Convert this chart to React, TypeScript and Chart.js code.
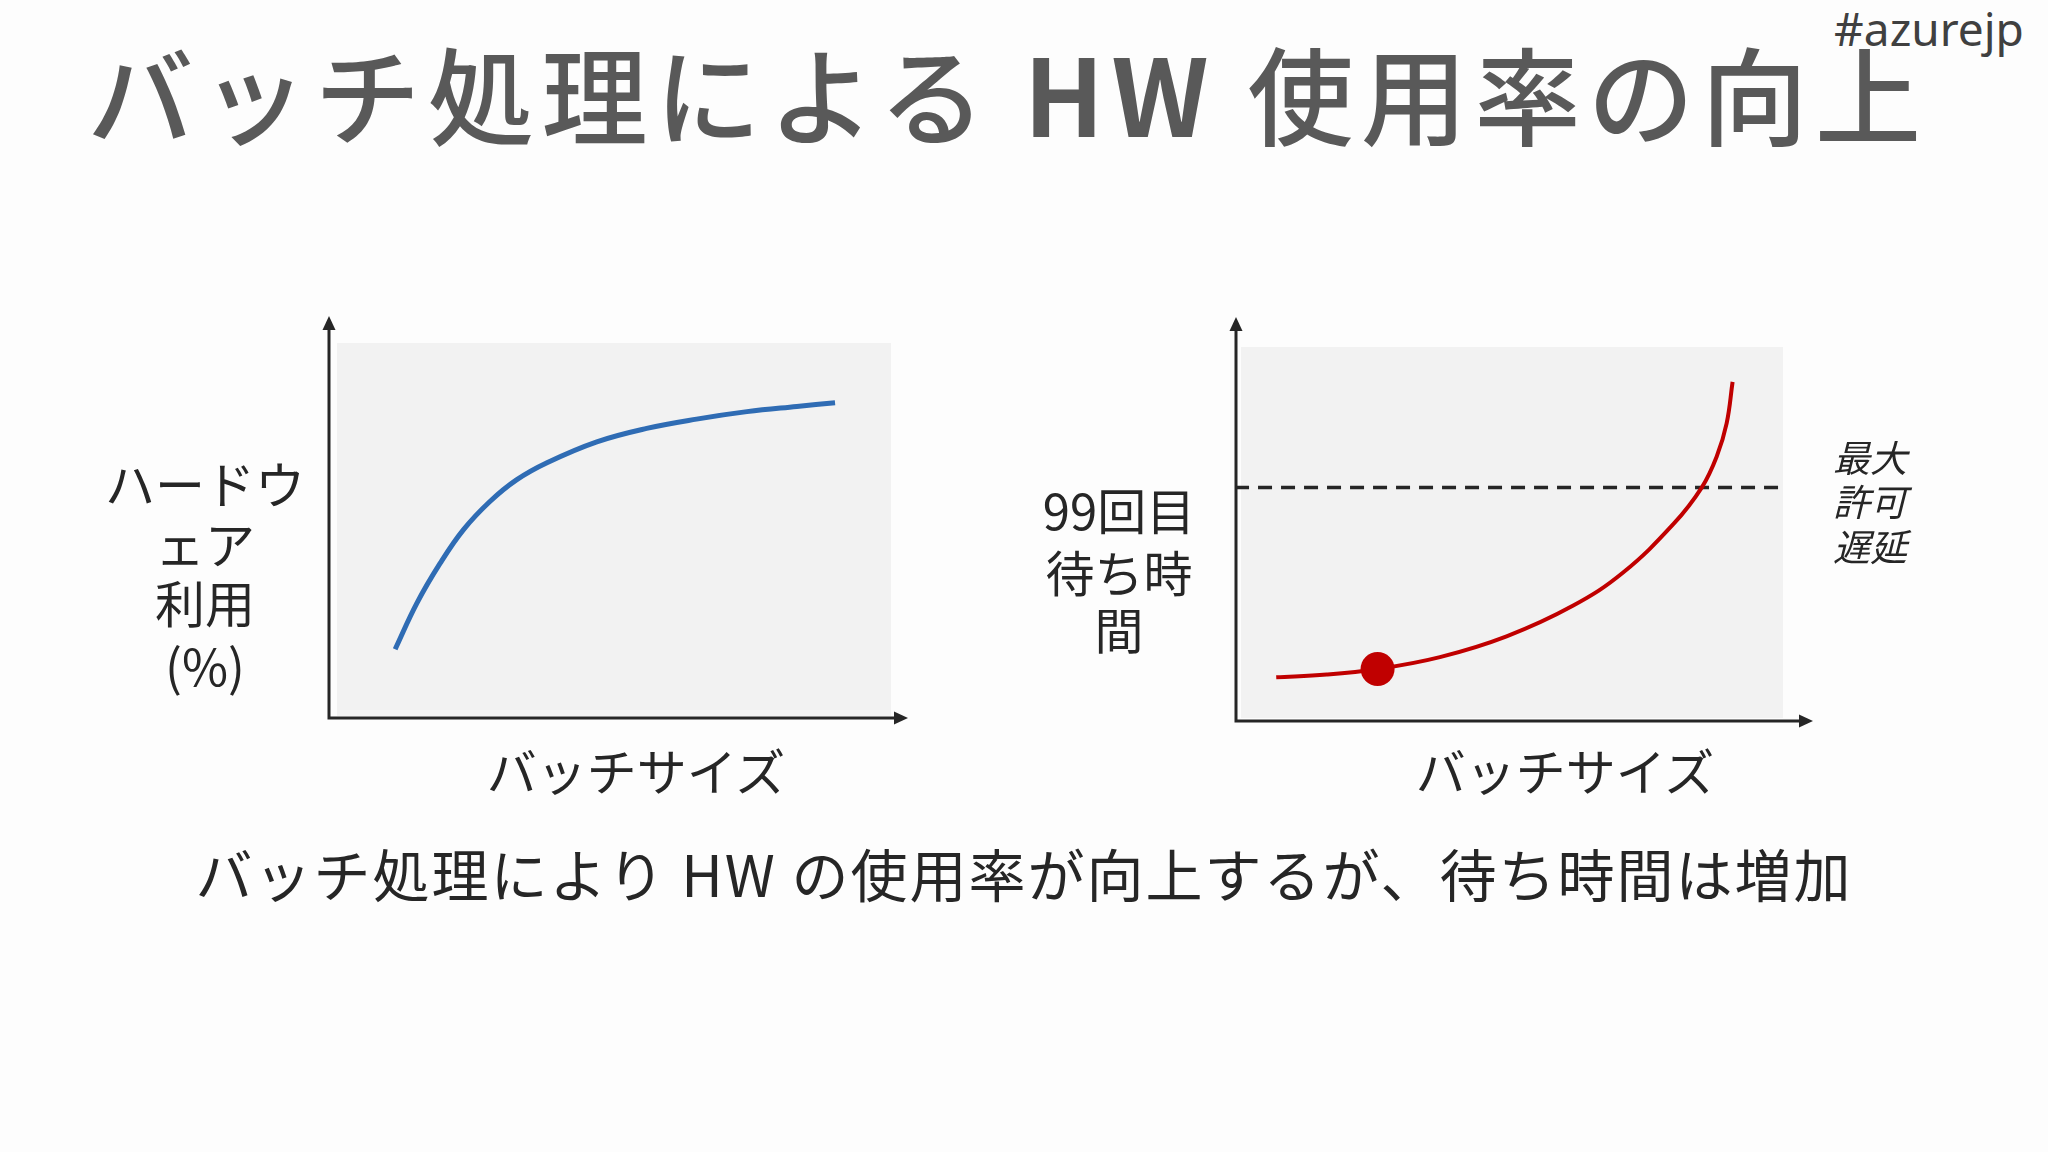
import React, { useEffect, useRef } from "react";
import { Chart, registerables } from "chart.js";

Chart.register(...registerables);

// ---- Data (arbitrary 0-100 units) ----
const hwBatchSize = [10.5, 14.4, 18.6, 22.8, 27.6, 32.4, 37.9, 46.9, 55.9, 64.9, 74.0, 83.0, 89.9];
const hwUtilization = [17.9, 30.2, 40.9, 49.9, 57.5, 63.3, 67.9, 73.5, 77.1, 79.6, 81.6, 83.0, 84.0];

const latBatchSize = [6.5, 15.8, 25.2, 36.7, 49.0, 61.3, 70.5, 79.8, 85.0, 87.8, 89.6, 90.7];
const latWait = [11.0, 11.7, 13.2, 16.4, 22.0, 30.3, 39.2, 52.3, 62.1, 70.6, 79.4, 90.6];

const markerBatch = [25.2];
const markerWait = [13.2];

const maxLatency = 62.1;
const maxLatencyRange = [-1.1, 100];

const titleText = "バッチ処理による";
const titleHW = "HW";
const titleRest = "使用率の向上";
const tagText = "#azurejp";
const captionText = "バッチ処理により HW の使用率が向上するが、待ち時間は増加";
const xLabel = "バッチサイズ";
const leftYLabel = ["ハードウ", "ェア", "利用", "(%)"];
const rightYLabel = ["99回目", "待ち時", "間"];
const limitLabel = ["最大", "許可", "遅延"];

const FONT = '"Noto Sans CJK JP", "Noto Sans", sans-serif';
const TEXT = "#262626";
const AXIS = "#262626";
const PLOT_BG = "#f2f2f2";

type AxisOpts = { dx: number; dy: number; topTip: number; rightTip: number };

function makeAxesPlugin(o: AxisOpts) {
  return {
    id: "axesAndBg",
    beforeDatasetsDraw(chart: any) {
      const { ctx, chartArea } = chart;
      const { left, right, top, bottom } = chartArea;
      ctx.save();
      ctx.fillStyle = PLOT_BG;
      ctx.fillRect(left, top, right - left, bottom - top);
      const ax = left - o.dx;
      const ay = bottom + o.dy;
      const ty = top - o.topTip;
      const tx = right + o.rightTip;
      ctx.strokeStyle = AXIS;
      ctx.fillStyle = AXIS;
      ctx.lineWidth = 3;
      ctx.beginPath();
      ctx.moveTo(ax, ty + 10);
      ctx.lineTo(ax, ay);
      ctx.lineTo(tx - 10, ay);
      ctx.stroke();
      // arrow heads
      ctx.beginPath();
      ctx.moveTo(ax, ty);
      ctx.lineTo(ax - 6.5, ty + 14);
      ctx.lineTo(ax + 6.5, ty + 14);
      ctx.closePath();
      ctx.fill();
      ctx.beginPath();
      ctx.moveTo(tx, ay);
      ctx.lineTo(tx - 14, ay - 6.5);
      ctx.lineTo(tx - 14, ay + 6.5);
      ctx.closePath();
      ctx.fill();
      ctx.restore();
    },
  };
}

const hiddenScales = {
  x: { type: "linear" as const, min: 0, max: 100, display: false },
  y: { type: "linear" as const, min: 0, max: 100, display: false },
};

function LeftChart() {
  const ref = useRef<HTMLCanvasElement>(null);
  useEffect(() => {
    const chart = new Chart(ref.current!, {
      type: "line",
      data: {
        datasets: [
          {
            data: hwBatchSize.map((x, i) => ({ x, y: hwUtilization[i] })),
            borderColor: "#2f6cb4",
            borderWidth: 5,
            pointRadius: 0,
            tension: 0.4,
            borderCapStyle: "butt",
            fill: false,
          },
        ],
      },
      options: {
        responsive: false,
        animation: false,
        devicePixelRatio: 1,
        layout: { padding: { left: 37, top: 53, right: 49, bottom: 24 } },
        plugins: { legend: { display: false }, tooltip: { enabled: false } },
        scales: hiddenScales,
      },
      plugins: [makeAxesPlugin({ dx: 8, dy: 2, topTip: 27, rightTip: 17 })],
    } as any);
    return () => chart.destroy();
  }, []);
  return (
    <canvas
      ref={ref}
      width={640}
      height={450}
      style={{ position: "absolute", left: 300, top: 290, width: 640, height: 450 }}
    />
  );
}

function RightChart() {
  const ref = useRef<HTMLCanvasElement>(null);
  useEffect(() => {
    const chart = new Chart(ref.current!, {
      type: "line",
      data: {
        datasets: [
          {
            data: markerBatch.map((x, i) => ({ x, y: markerWait[i] })),
            showLine: false,
            pointRadius: 17,
            pointBackgroundColor: "#c00000",
            pointBorderWidth: 0,
            order: 0,
          },
          {
            data: latBatchSize.map((x, i) => ({ x, y: latWait[i] })),
            borderColor: "#c00000",
            borderWidth: 4,
            pointRadius: 0,
            tension: 0.4,
            fill: false,
            order: 1,
          },
          {
            data: maxLatencyRange.map((x) => ({ x, y: maxLatency })),
            borderColor: AXIS,
            borderWidth: 3.5,
            borderDash: [14, 9],
            pointRadius: 0,
            clip: 10,
            order: 2,
          },
        ],
      },
      options: {
        responsive: false,
        animation: false,
        devicePixelRatio: 1,
        layout: { padding: { left: 41, top: 57, right: 57, bottom: 22 } },
        plugins: { legend: { display: false }, tooltip: { enabled: false } },
        scales: hiddenScales,
      },
      plugins: [makeAxesPlugin({ dx: 5, dy: 3, topTip: 30, rightTip: 30 })],
    } as any);
    return () => chart.destroy();
  }, []);
  return (
    <canvas
      ref={ref}
      width={640}
      height={450}
      style={{ position: "absolute", left: 1200, top: 290, width: 640, height: 450 }}
    />
  );
}

function Label(props: {
  text: string;
  x: number;
  y: number;
  size: number;
  color?: string;
  italic?: boolean;
  weight?: number;
  spacing?: number;
  family?: string;
}) {
  return (
    <div
      style={{
        position: "absolute",
        left: props.x,
        top: props.y,
        transform: "translate(-50%, -50%)",
        fontFamily: props.family || FONT,
        fontSize: props.size,
        lineHeight: 1,
        whiteSpace: "nowrap",
        color: props.color || TEXT,
        fontStyle: props.italic ? "italic" : "normal",
        fontWeight: props.weight || 400,
        letterSpacing: props.spacing || 0,
      }}
    >
      {props.text}
    </div>
  );
}

export default function App() {
  useEffect(() => {
    document.body.style.margin = "0";
  }, []);
  return (
    <div
      style={{
        position: "fixed",
        left: 0,
        top: 0,
        width: 2048,
        height: 1152,
        background: "#fdfdfd",
        overflow: "hidden",
      }}
    >
      <div
        style={{
          position: "absolute",
          left: 1008,
          top: 91,
          transform: "translate(-50%, -50%)",
          fontFamily: FONT,
          fontSize: 106,
          lineHeight: 1,
          whiteSpace: "nowrap",
          color: "#595959",
          fontWeight: 500,
          letterSpacing: 7.5,
        }}
      >
        {titleText} <span style={{ fontWeight: 700 }}>{titleHW}</span> {titleRest}
      </div>
      <Label text={tagText} x={1929} y={28} size={46} color="#404040" family='"Noto Sans", sans-serif' />

      <LeftChart />
      <RightChart />

      {leftYLabel.map((t, i) => (
        <Label key={"l" + i} text={t} x={205} y={[482, 542, 601, 664][i]} size={50} />
      ))}
      <Label text={xLabel} x={636} y={769} size={50} />

      {rightYLabel.map((t, i) => (
        <Label key={"r" + i} text={t} x={1119} y={[508, 570, 627][i]} size={49} />
      ))}
      <Label text={xLabel} x={1565} y={769} size={50} />

      {limitLabel.map((t, i) => (
        <Label key={"m" + i} text={t} x={1870} y={[456, 500, 545][i]} size={37} italic />
      ))}

      <Label text={captionText} x={1024} y={872} size={57} spacing={2} />
    </div>
  );
}
